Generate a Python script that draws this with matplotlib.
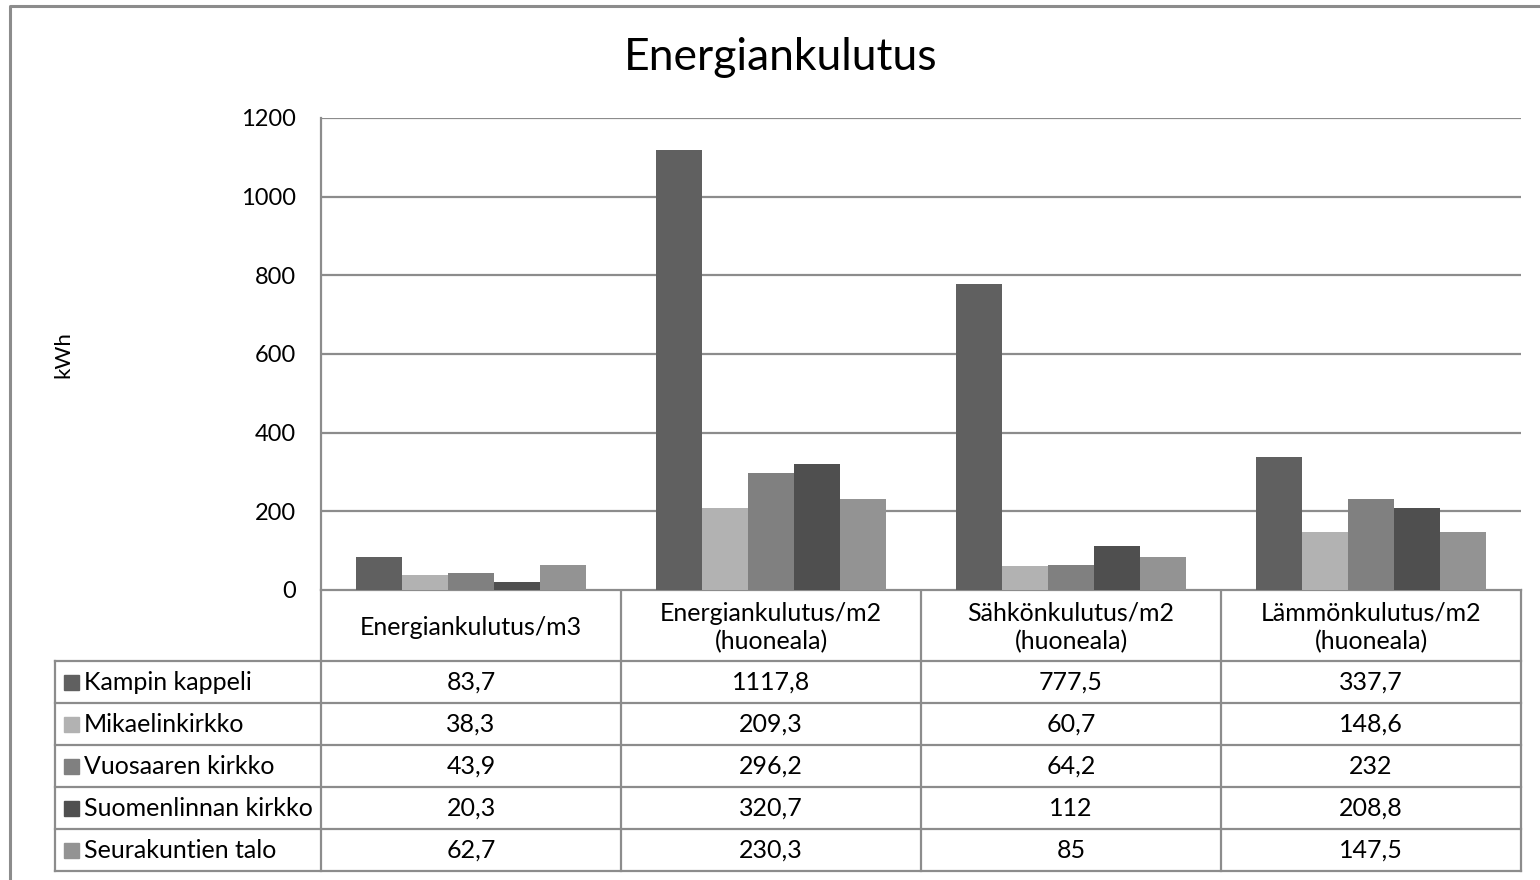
import numpy as np
import matplotlib
matplotlib.use("Agg")
import matplotlib.pyplot as plt
from matplotlib.patches import Rectangle

plt.rcParams['font.family'] = ['Lato', 'DejaVu Sans']

# --- data ---
categories = ["Energiankulutus/m3", "Energiankulutus/m2\n(huoneala)",
              "Sähkönkulutus/m2\n(huoneala)", "Lämmönkulutus/m2\n(huoneala)"]
series_names = ["Kampin kappeli", "Mikaelinkirkko", "Vuosaaren kirkko",
                "Suomenlinnan kirkko", "Seurakuntien talo"]
kampin = [83.7, 1117.8, 777.5, 337.7]
mikaelin = [38.3, 209.3, 60.7, 148.6]
vuosaaren = [43.9, 296.2, 64.2, 232]
suomenlinnan = [20.3, 320.7, 112, 208.8]
seurakuntien = [62.7, 230.3, 85, 147.5]
series_values = [kampin, mikaelin, vuosaaren, suomenlinnan, seurakuntien]
colors = ["#606060", "#b2b2b2", "#808080", "#4f4f4f", "#939393"]
yticks = [0, 200, 400, 600, 800, 1000, 1200]

W, H = 1540, 880
fig = plt.figure(figsize=(W / 100, H / 100), dpi=100)
line_col = "#8c8c8c"

# plot area in pixels
L, T, R, B = 321, 118, 1521, 590
ax = fig.add_axes([L / W, 1 - B / H, (R - L) / W, (B - T) / H])
ax.set_xlim(-0.5, len(categories) - 0.5)
ax.set_ylim(0, 1200)
ax.set_yticks(yticks)
ax.set_xticks([])
ax.tick_params(axis='y', length=0, pad=18, labelsize=17)
for s in ["top", "right", "bottom"]:
    ax.spines[s].set_visible(False)
ax.spines["left"].set_color(line_col)
ax.spines["left"].set_linewidth(1.6)
ax.yaxis.grid(True, color=line_col, linewidth=1.6)
ax.set_axisbelow(True)

n = len(series_names)
bw = 1 / (n + 1.5)
x = np.arange(len(categories))
for i, (vals, c) in enumerate(zip(series_values, colors)):
    ax.bar(x + (i - (n - 1) / 2) * bw, vals, width=bw, color=c, zorder=3)

# overlay in pixel coordinates for frame, title and data table
ov = fig.add_axes([0, 0, 1, 1], zorder=-1)
ov.set_xlim(0, W)
ov.set_ylim(H, 0)
ov.axis("off")

ov.plot([10, 10, W], [H, 6, 6], color=line_col, lw=2.2)
ov.text(781, 58, "Energiankulutus", ha="center", va="center", fontsize=32)
ov.text(63, 355, "kWh", ha="center", va="center", rotation=90, fontsize=16)

# data table
col_w = (R - L) / len(categories)
hdr_b = 661
row_h = 42
tab_b = hdr_b + row_h * n
lbl_l = 55
lw_t = 1.6
ov.plot([L, R], [B, B], color=line_col, lw=lw_t)
for k in range(len(categories) + 1):
    ov.plot([L + k * col_w] * 2, [B, tab_b], color=line_col, lw=lw_t)
ov.plot([lbl_l, lbl_l], [hdr_b, tab_b], color=line_col, lw=lw_t)
for r in range(n + 1):
    ov.plot([lbl_l, R], [hdr_b + r * row_h] * 2, color=line_col, lw=lw_t)

for k, cat in enumerate(categories):
    ov.text(L + (k + 0.5) * col_w, (B + hdr_b) / 2 + 2, cat, ha="center",
            va="center", fontsize=18, linespacing=1.25)


def fmt(v):
    return f"{v:g}".replace(".", ",")


for r, (name, vals, c) in enumerate(zip(series_names, series_values, colors)):
    yc = hdr_b + (r + 0.5) * row_h
    ov.add_patch(Rectangle((64, yc - 7), 15, 15, color=c))
    ov.text(84, yc, name, ha="left", va="center", fontsize=18)
    for k, v in enumerate(vals):
        ov.text(L + (k + 0.5) * col_w, yc, fmt(v), ha="center", va="center",
                fontsize=18)

fig.savefig("out.png", dpi=100)
